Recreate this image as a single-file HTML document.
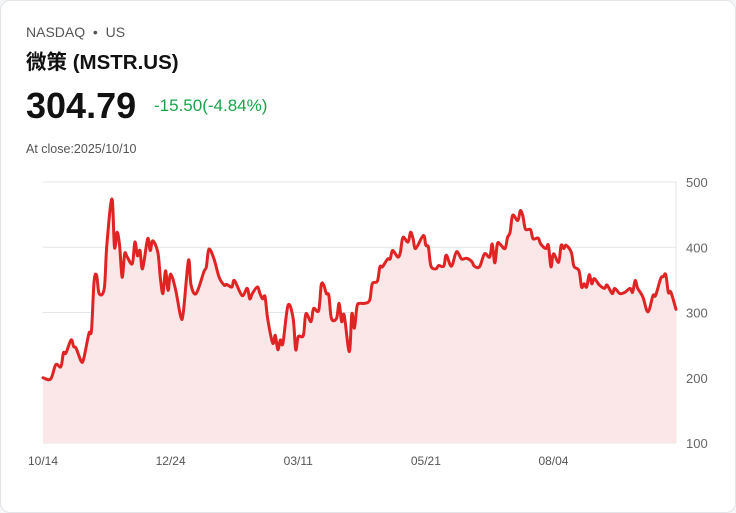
<!DOCTYPE html>
<html><head><meta charset="utf-8">
<style>
body{margin:0;background:#f5f6f8;font-family:"Liberation Sans","Noto Sans CJK SC",sans-serif;}
.card{position:absolute;left:0;top:0;width:734px;height:511px;background:#fff;border:1px solid #e2e4e8;border-radius:10px;}
.t{position:absolute;white-space:nowrap;}
</style></head><body>
<div class="card">
<div class="t" style="left:25px;top:23px;font-size:14px;color:#555;">NASDAQ&nbsp; •&nbsp; US</div>
<div class="t" style="left:25px;top:44px;font-size:20.5px;font-weight:bold;color:#111;">微策 (MSTR.US)</div>
<div class="t" style="left:25px;top:84px;font-size:36px;font-weight:bold;color:#111;">304.79</div>
<div class="t" style="left:153px;top:95px;font-size:17px;color:#1aa34a;">-15.50(-4.84%)</div>
<div class="t" style="left:25px;top:141px;font-size:12.5px;color:#555;">At close:2025/10/10</div>
<svg id="chart" width="736" height="513" style="position:absolute;left:-1px;top:-1px"></svg>
</div>
<script>
const days=[0,3,5,7,8,9,11,12,13,15,16,18,19,20,21,22,24,25,27,28,29,30,31,32,33,35,36,37,38,39,41,42,43,45,46,47,48,49,50,52,54,55,57,58,60,63,64,65,67,69,71,72,74,75,78,80,81,82,84,85,
86,87,88,90,91,92,93,94,96,98,99,100,102,103,105,106,108,109,110,111,112,113,115,116,117,118,120,121,122,123,124,126,128,129,131,132,133,135,136,137,139,140,141,143,144,145,146,149,150,151,152,154,155,157,158,160,162,164,166,168,
169,171,173,175,176,177,178,179,181,182,183,184,186,187,188,189,191,192,194,195,197,198,199,200,202,203,204,205,207,208,210,211,212,213,214,215,216,218,220,221,223,224,226,228,230,231,232,233,235,237,239,240,242,243,244,245,246,248];
const prices=[200,198,220,217,238,238,258,248,245,225,230,268,273,347,357,329,337,403,474,400,423,403,354,390,385,375,408,387,395,367,413,395,410,392,352,329,364,334,359,334,293,301,380,342,329,362,370,397,382,354,342,343,339,349,326,337,321,329,339,329,
321,324,291,253,265,243,258,253,311,291,243,263,265,298,286,306,303,342,342,329,326,291,291,314,286,296,240,298,276,309,314,314,319,344,348,370,370,382,382,395,385,392,415,408,423,413,398,418,403,400,371,367,372,371,388,371,393,382,383,378,
371,370,390,385,405,376,405,405,398,415,423,449,441,456,448,428,427,413,414,405,398,403,370,390,377,403,398,403,392,371,364,339,344,339,358,344,352,342,337,342,329,337,329,331,337,331,349,337,324,301,326,326,352,355,358,331,331,304.79];
const yTicks=[100,200,300,400,500];
const xTickDays=[0,50,100,150,200];
const xTickLabels=["10/14","12/24","03/11","05/21","08/04"];
const svg=document.getElementById('chart');
const NS='http://www.w3.org/2000/svg';
const X0=43,X1=676,Y500=182,Y100=443,DMAX=248;
const xs=d=>X0+(X1-X0)*d/DMAX;
const ys=v=>Y100-(v-100)*(Y100-Y500)/400;
function mk(t,a){const e=document.createElementNS(NS,t);for(const k in a)e.setAttribute(k,a[k]);svg.appendChild(e);return e;}
yTicks.forEach(v=>{
 const l=mk('line',{x1:X0,x2:X1,y1:ys(v),y2:ys(v),stroke:'#e4e4e4','stroke-width':1});
 
 
 const t=mk('text',{x:686,y:ys(v)+5,'font-size':13,fill:'#666','font-family':'Liberation Sans,sans-serif'});
 t.textContent=v;
 
 
});
const ax=mk('line',{x1:X1,x2:X1,y1:Y500,y2:Y100,stroke:'#e4e4e4'});


xTickDays.forEach((d,i)=>{
 const t=mk('text',{x:xs(d),y:465,'font-size':12,fill:'#555','text-anchor':'middle','font-family':'Liberation Sans,sans-serif'});
 t.textContent=xTickLabels[i];
 
 
});
const pts=days.map((d,i)=>[xs(d),ys(prices[i])]);
let p='M'+pts[0][0]+','+pts[0][1];
for(let i=0;i<pts.length-1;i++){
 const a=pts[Math.max(0,i-1)],b=pts[i],c=pts[i+1],e=pts[Math.min(pts.length-1,i+2)];
 const c1=[b[0]+(c[0]-a[0])/6,b[1]+(c[1]-a[1])/6],c2=[c[0]-(e[0]-b[0])/6,c[1]-(e[1]-b[1])/6];
 p+=` C${c1[0]},${c1[1]} ${c2[0]},${c2[1]} ${c[0]},${c[1]}`;
}
const area=mk('path',{d:p+` L${pts[pts.length-1][0]},${Y100} L${pts[0][0]},${Y100} Z`,fill:'#fbe7e7'});


const line=mk('path',{d:p,fill:'none',stroke:'#e02424','stroke-width':3,'stroke-linejoin':'round','stroke-linecap':'round'});


</script>
</body></html>
